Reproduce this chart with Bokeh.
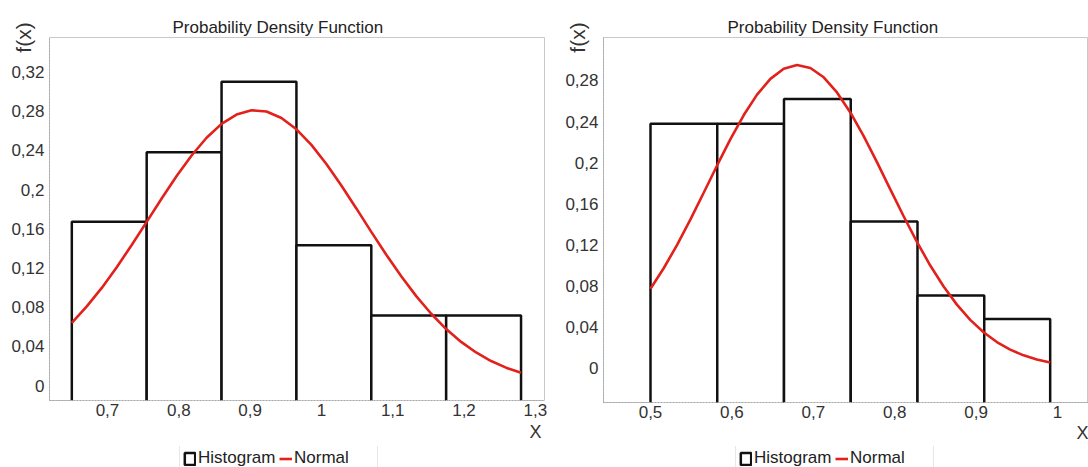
from bokeh.plotting import figure
from bokeh.models import Range1d, FixedTicker, Legend, LegendItem, Title
from bokeh.layouts import row, column
from bokeh.embed import file_html
from bokeh.resources import INLINE

# ---------------- data: left chart ----------------
left_edges = [0.65, 0.755, 0.86, 0.965, 1.07, 1.175, 1.28]
left_heights = [0.167, 0.238, 0.310, 0.143, 0.0714, 0.0714]
left_curve_x = [0.650, 0.671, 0.692, 0.713, 0.734, 0.755, 0.776, 0.797, 0.818, 0.839, 0.860,
                0.881, 0.902, 0.923, 0.944, 0.965, 0.986, 1.007, 1.028, 1.049, 1.070, 1.091,
                1.112, 1.133, 1.154, 1.175, 1.196, 1.217, 1.238, 1.259, 1.280]
left_curve_y = [0.0640, 0.0807, 0.0996, 0.1207, 0.1434, 0.1670, 0.1908, 0.2137, 0.2347, 0.2528, 0.2670,
                0.2765, 0.2808, 0.2796, 0.2730, 0.2614, 0.2455, 0.2260, 0.2040, 0.1807, 0.1568, 0.1335,
                0.1114, 0.0912, 0.0732, 0.0576, 0.0445, 0.0337, 0.0250, 0.0182, 0.0130]
left_xticks = [0.7, 0.8, 0.9, 1.0, 1.1, 1.2, 1.3]
left_xtick_labels = ["0,7", "0,8", "0,9", "1", "1,1", "1,2", "1,3"]
left_yticks = [0, 0.04, 0.08, 0.12, 0.16, 0.2, 0.24, 0.28, 0.32]
left_ytick_labels = ["0", "0,04", "0,08", "0,12", "0,16", "0,2", "0,24", "0,28", "0,32"]

# ---------------- data: right chart ----------------
right_edges = [0.5, 0.582, 0.664, 0.746, 0.828, 0.910, 0.991]
right_heights = [0.238, 0.238, 0.262, 0.143, 0.071, 0.048]
right_curve_x = [0.5000, 0.5164, 0.5327, 0.5491, 0.5655, 0.5818, 0.5982, 0.6146, 0.6309, 0.6473, 0.6637,
                 0.6800, 0.6964, 0.7128, 0.7291, 0.7455, 0.7619, 0.7782, 0.7946, 0.8110, 0.8273, 0.8437,
                 0.8601, 0.8764, 0.8928, 0.9092, 0.9255, 0.9419, 0.9583, 0.9746, 0.9910]
right_curve_y = [0.0775, 0.0977, 0.1202, 0.1450, 0.1711, 0.1974, 0.2230, 0.2464, 0.2663, 0.2816, 0.2914,
                 0.2950, 0.2922, 0.2831, 0.2684, 0.2489, 0.2259, 0.2006, 0.1742, 0.1480, 0.1231, 0.1001,
                 0.0797, 0.0621, 0.0473, 0.0352, 0.0257, 0.0183, 0.0128, 0.0088, 0.0058]
right_xticks = [0.5, 0.6, 0.7, 0.8, 0.9, 1.0]
right_xtick_labels = ["0,5", "0,6", "0,7", "0,8", "0,9", "1"]
right_yticks = [0, 0.04, 0.08, 0.12, 0.16, 0.2, 0.24, 0.28]
right_ytick_labels = ["0", "0,04", "0,08", "0,12", "0,16", "0,2", "0,24", "0,28"]

title_text = "Probability Density Function"
legend_labels = ["Histogram", "Normal"]
FONT = "Liberation Sans"
BAR_STYLE = dict(fill_color="white", line_color="#111111", line_width=2.5)
CURVE_STYLE = dict(line_color="#e3211c", line_width=2.6)
NAN = float("nan")


def make_chart(width, borders, xr, yr, edges, heights, cx, cy,
               xticks, xlabels, yticks, ylabels, title_offset, x_offset, x_standoff):
    p = figure(width=width, height=446, output_backend="svg", toolbar_location=None,
               x_range=Range1d(*xr), y_range=Range1d(*yr),
               min_border_left=borders[0], min_border_right=borders[1],
               min_border_top=borders[2], min_border_bottom=borders[3])
    p.background_fill_color = "white"
    p.border_fill_color = "white"
    p.outline_line_color = "#c8c8c8"
    p.outline_line_width = 1
    p.xgrid.visible = False
    p.ygrid.visible = False

    p.title.text = title_text
    p.title.align = "left"
    p.title.offset = title_offset
    p.title.standoff = 2
    p.title.text_font = FONT
    p.title.text_font_size = "17px"
    p.title.text_font_style = "normal"
    p.title.text_color = "#222222"

    for ax, ticks, labels in ((p.xaxis[0], xticks, xlabels), (p.yaxis[0], yticks, ylabels)):
        ax.ticker = FixedTicker(ticks=ticks)
        ax.major_label_overrides = dict(zip(ticks, labels))
        ax.axis_line_color = "#a8a8a8"
        ax.axis_line_dash = "2 1"
        ax.major_tick_out = 0
        ax.major_tick_in = 0
        ax.minor_tick_out = 0
        ax.minor_tick_in = 0
        ax.major_label_text_font = FONT
        ax.major_label_text_font_size = "17px"
        ax.major_label_text_color = "#333333"
        ax.major_label_standoff = 5
    p.xaxis[0].major_label_standoff = 3

    # "f(x)" as the y-axis title, at the top end of the axis
    yax = p.yaxis[0]
    yax.axis_label = "f(x)"
    yax.axis_label_text_font = FONT
    yax.axis_label_text_font_style = "normal"
    yax.axis_label_text_color = "#333333"
    yax.axis_label_text_font_size = "21px"
    yax.axis_label_standoff = -27
    if "axis_label_align" in yax.properties():
        yax.axis_label_align = "end"

    # "X" below the tick labels, at the right end
    p.add_layout(Title(text="X", align="right", offset=x_offset, standoff=x_standoff,
                       text_font=FONT, text_font_size="18px", text_font_style="normal",
                       text_color="#333333"), "below")

    p.quad(left=edges[:-1], right=edges[1:], top=heights, bottom=-1, **BAR_STYLE)
    p.line(cx, cy, **CURVE_STYLE)
    return p


def make_legend(width, legend_x):
    lf = figure(width=width, height=21, output_backend="svg", toolbar_location=None,
                x_axis_type=None, y_axis_type=None,
                x_range=Range1d(0, 1), y_range=Range1d(0, 1),
                min_border_left=0, min_border_right=0, min_border_top=0, min_border_bottom=0)
    lf.outline_line_color = None
    lf.background_fill_color = "white"
    lf.border_fill_color = "white"
    lf.xgrid.visible = False
    lf.ygrid.visible = False
    # proxy renderers (nothing drawn) that only carry the legend styles
    q = lf.quad(left=[NAN], right=[NAN], top=[NAN], bottom=[NAN], **BAR_STYLE)
    l = lf.line(x=[NAN, NAN], y=[NAN, NAN], **CURVE_STYLE)
    legend = Legend(items=[LegendItem(label=legend_labels[0], renderers=[q]),
                           LegendItem(label=legend_labels[1], renderers=[l])],
                    orientation="horizontal", location=(legend_x, -5))
    legend.label_text_font = FONT
    legend.label_text_font_size = "17px"
    legend.label_text_color = "#222222"
    legend.glyph_width = 13
    legend.glyph_height = 15
    legend.label_height = 15
    legend.label_width = 80
    legend.label_standoff = 2
    legend.spacing = 1
    legend.padding = 3
    legend.margin = 0
    legend.border_line_color = "#d0d0d0"
    legend.background_fill_color = "white"
    legend.background_fill_alpha = 1
    lf.add_layout(legend)
    return lf


p1 = make_chart(558, (49, 14, 37, 46), (0.6187, 1.3129), (-0.0153, 0.3551),
                left_edges, left_heights, left_curve_x, left_curve_y,
                left_xticks, left_xtick_labels, left_yticks, left_ytick_labels, 123, 3, 2)
p2 = make_chart(530, (45, 0, 37, 44), (0.44226, 1.03808), (-0.03306, 0.3218),
                right_edges, right_heights, right_curve_x, right_curve_y,
                right_xticks, right_xtick_labels, right_yticks, right_ytick_labels, 124, 0, 0)
l1 = make_legend(558, 130)
l2 = make_legend(530, 132)

layout = row(column(p1, l1), column(p2, l2))
open("out.html", "w").write(file_html(layout, INLINE))
